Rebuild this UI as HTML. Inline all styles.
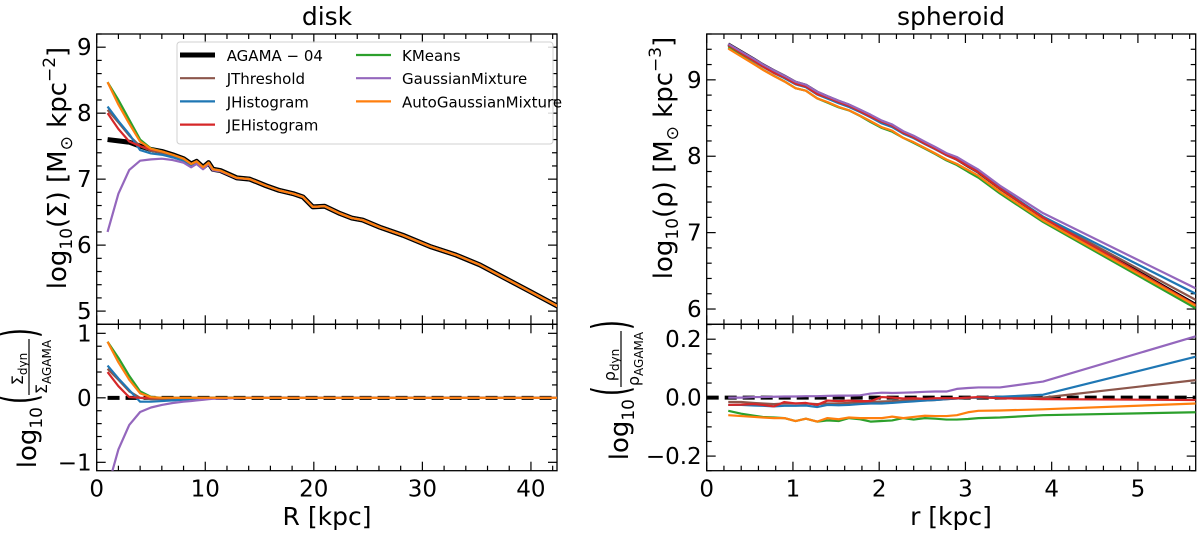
<!DOCTYPE html>
<html><head><meta charset="utf-8">
<style>
html,body{margin:0;padding:0;background:#fff;}
svg{display:block;font-family:"DejaVu Sans","Liberation Sans",sans-serif;}
</style></head>
<body>
<svg id="fig" width="1200" height="533" viewBox="0 0 1200 533" xmlns="http://www.w3.org/2000/svg">
<defs>
<clipPath id="cLT"><rect x="96.7" y="34" width="460.3" height="290.3"/></clipPath>
<clipPath id="cLB"><rect x="96.7" y="324.3" width="460.3" height="146.4"/></clipPath>
<clipPath id="cRT"><rect x="706.7" y="34" width="489" height="290.3"/></clipPath>
<clipPath id="cRB"><rect x="706.7" y="324.3" width="489" height="146.4"/></clipPath>
</defs>
<text x="327" y="25" font-size="25" text-anchor="middle">disk</text>
<text x="951" y="25" font-size="25" text-anchor="middle">spheroid</text>
<text x="327" y="525" font-size="25" text-anchor="middle">R [kpc]</text>
<text x="951" y="525" font-size="25" text-anchor="middle">r [kpc]</text>
<g transform="translate(66,168) rotate(-90)">
<text font-size="26" text-anchor="middle">log<tspan font-size="17" dy="6">10</tspan><tspan dy="-6">(Σ) [M</tspan><tspan font-size="17" dy="6">⊙</tspan><tspan dy="-6"> kpc</tspan><tspan font-size="17" dy="-11">−2</tspan><tspan dy="11">]</tspan></text>
</g>
<g transform="translate(36,395) rotate(-90)">
<text x="-12" y="0" font-size="26" text-anchor="end">log<tspan font-size="17" dy="6">10</tspan></text>
<text x="-4" y="0" font-size="26" text-anchor="middle" transform="translate(-4,-8) scale(1,1.9) translate(4,4)">(</text>
<text x="26" y="-13" font-size="16" text-anchor="middle">Σ<tspan font-size="12" dy="4">dyn</tspan></text>
<line x1="0" y1="-7" x2="56" y2="-7" stroke="#000" stroke-width="1.2"/>
<text x="28" y="11" font-size="16" text-anchor="middle">Σ<tspan font-size="12" dy="4">AGAMA</tspan></text>
<text x="62" y="0" font-size="26" text-anchor="middle" transform="translate(62,-8) scale(1,1.9) translate(-62,4)">)</text>
</g>
<g transform="translate(672,158) rotate(-90)">
<text font-size="26" text-anchor="middle">log<tspan font-size="17" dy="6">10</tspan><tspan dy="-6">(ρ) [M</tspan><tspan font-size="17" dy="6">⊙</tspan><tspan dy="-6"> kpc</tspan><tspan font-size="17" dy="-11">−3</tspan><tspan dy="11">]</tspan></text>
</g>
<g transform="translate(628,387) rotate(-90)">
<text x="-12" y="0" font-size="26" text-anchor="end">log<tspan font-size="17" dy="6">10</tspan></text>
<text x="-4" y="0" font-size="26" text-anchor="middle" transform="translate(-4,-8) scale(1,1.9) translate(4,4)">(</text>
<text x="22" y="-13" font-size="16" text-anchor="middle">ρ<tspan font-size="12" dy="4">dyn</tspan></text>
<line x1="0" y1="-7" x2="56" y2="-7" stroke="#000" stroke-width="1.2"/>
<text x="28" y="11" font-size="16" text-anchor="middle">ρ<tspan font-size="12" dy="4">AGAMA</tspan></text>
<text x="62" y="0" font-size="26" text-anchor="middle" transform="translate(62,-8) scale(1,1.9) translate(-62,4)">)</text>
</g>
<g id="plots"></g>
<g id="legend"></g>
</svg>
<script>
// ---------- data ----------
const seriesNames = ["JThreshold","JHistogram","JEHistogram","KMeans","GaussianMixture","AutoGaussianMixture"];
const seriesColors = ["#8c564b","#1f77b4","#d62728","#2ca02c","#9467bd","#ff7f0e"];
// disk
const diskR = [1,2,3,4,5,6,7,8,8.7,9.2,9.8,10.3,10.7,11.4,12.9,14.1,15.6,16.8,18.1,19,19.9,21,22.4,23.5,24.5,26.1,28.2,30.7,33.1,35.3,40,45];
const diskAgama = [7.6,7.58,7.56,7.5,7.45,7.42,7.37,7.31,7.23,7.27,7.18,7.25,7.15,7.13,7.02,7.0,6.9,6.83,6.78,6.73,6.58,6.59,6.48,6.41,6.38,6.27,6.15,5.98,5.85,5.7,5.29,4.85];
const diskJThreshold = [0.45,0.28,0.1,0,-0.02,-0.02,-0.01,0,0,0,0,0,0,0,0,0,0,0,0,0,0,0,0,0,0,0,0,0,0,0,0,0];
const diskJHistogram = [0.5,0.3,0.12,-0.06,-0.06,-0.05,-0.04,-0.03,-0.02,-0.015,-0.01,0,0,0,0,0,0,0,0,0,0,0,0,0,0,0,0,0,0,0,0,0];
const diskJEHistogram = [0.4,0.18,0.01,0,0,0,0,0,0,0,0,0,0,0,0,0,0,0,0,0,0,0,0,0,0,0,0,0,0,0,0,0];
const diskKMeans = [0.87,0.62,0.34,0.1,0.015,0,0,0,0,0,0,0,0,0,0,0,0,0,0,0,0,0,0,0,0,0,0,0,0,0,0,0];
const diskGaussianMixture = [-1.4,-0.8,-0.42,-0.22,-0.15,-0.11,-0.08,-0.06,-0.05,-0.04,-0.03,-0.02,-0.015,-0.01,-0.005,0,0,0,0,0,0,0,0,0,0,0,0,0,0,0,0,0];
const diskAutoGaussianMixture = [0.87,0.55,0.28,0.07,0.01,0,0,0,0,0,0,0,0,0,0,0,0,0,0,0,0,0,0,0,0,0,0,0,0,0,0,0];
// spheroid
const sphR = [0.25,0.4,0.55,0.65,0.78,0.9,1.03,1.15,1.28,1.4,1.53,1.65,1.78,1.9,2.03,2.15,2.28,2.4,2.53,2.65,2.78,2.9,3.03,3.15,3.4,3.9,5.67];
const sphAgama = [9.47,9.37,9.27,9.2,9.12,9.05,8.97,8.93,8.84,8.78,8.72,8.67,8.6,8.53,8.45,8.4,8.31,8.25,8.17,8.1,8.02,7.96,7.87,7.79,7.58,7.2,6.06];
const sphJThreshold = [-0.015,-0.015,-0.018,-0.02,-0.022,-0.02,-0.02,-0.02,-0.022,-0.02,-0.02,-0.018,-0.016,-0.015,-0.013,-0.012,-0.01,-0.01,-0.01,-0.008,-0.005,-0.003,0,0,0,0,0.06];
const sphJHistogram = [-0.025,-0.025,-0.027,-0.028,-0.03,-0.028,-0.028,-0.027,-0.032,-0.025,-0.026,-0.025,-0.022,-0.02,-0.02,-0.018,-0.015,-0.013,-0.01,-0.008,-0.005,-0.003,0,0,0.003,0.01,0.14];
const sphJEHistogram = [-0.025,-0.024,-0.022,-0.025,-0.03,-0.015,-0.02,-0.018,-0.025,-0.01,-0.012,-0.01,-0.012,-0.012,0.002,0,-0.003,-0.002,-0.004,-0.002,-0.002,-0.002,0,0.002,-0.002,-0.005,-0.008];
const sphKMeans = [-0.045,-0.055,-0.062,-0.066,-0.068,-0.07,-0.08,-0.072,-0.082,-0.078,-0.08,-0.07,-0.074,-0.082,-0.08,-0.078,-0.07,-0.075,-0.07,-0.072,-0.075,-0.075,-0.073,-0.07,-0.068,-0.06,-0.05];
const sphGaussianMixture = [0,0,0.002,0.002,0.003,0.004,0.004,0.005,0.005,0.006,0.007,0.007,0.008,0.014,0.017,0.016,0.017,0.018,0.02,0.021,0.021,0.03,0.033,0.035,0.035,0.055,0.21];
const sphAutoGaussianMixture = [-0.06,-0.063,-0.066,-0.068,-0.07,-0.07,-0.08,-0.072,-0.082,-0.07,-0.074,-0.068,-0.07,-0.07,-0.07,-0.065,-0.07,-0.066,-0.062,-0.063,-0.063,-0.06,-0.05,-0.045,-0.044,-0.04,-0.02];
const diskRatios = [diskJThreshold,diskJHistogram,diskJEHistogram,diskKMeans,diskGaussianMixture,diskAutoGaussianMixture];
const sphRatios = [sphJThreshold,sphJHistogram,sphJEHistogram,sphKMeans,sphGaussianMixture,sphAutoGaussianMixture];
const leftXTicks = [0,10,20,30,40];
const leftTopYTicks = [5,6,7,8,9];
const leftBotYTicks = [-1,0,1];
const rightXTicks = [0,1,2,3,4,5];
const rightTopYTicks = [6,7,8,9];
const rightBotYTicks = [-0.2,0,0.2];

// ---------- drawing ----------
const NS = "http://www.w3.org/2000/svg";
const plots = document.getElementById("plots");
function mk(tag, attrs, parent){
  const e = document.createElementNS(NS, tag);
  for (const k in attrs) e.setAttribute(k, attrs[k]);
  (parent||plots).appendChild(e);
  return e;
}
function fmt(v, dec){ const s = v.toFixed(dec); return s.replace("-", "−"); }
function axes(name, b, xr, yr, xMaj, xMin, yMaj, yMin, xLabels, yDec){
  const sx = v => b.x0 + (v - xr[0]) / (xr[1] - xr[0]) * (b.x1 - b.x0);
  const sy = v => b.y1 - (v - yr[0]) / (yr[1] - yr[0]) * (b.y1 - b.y0);
  const g = mk("g", {});
  
  
  const tickG = mk("g", {stroke:"#000","stroke-width":1.2}, g);
  for (let v = Math.ceil(xr[0]/xMin - 1e-6)*xMin; v <= xr[1]+1e-9; v += xMin) {
    const X = sx(v), isMaj = Math.abs(v/xMaj - Math.round(v/xMaj)) < 1e-6, L = isMaj ? 9 : 5;
    mk("line", {x1:X, x2:X, y1:b.y1, y2:b.y1-L}, tickG);
    mk("line", {x1:X, x2:X, y1:b.y0, y2:b.y0+L}, tickG);
  }
  for (let v = Math.ceil(yr[0]/yMin - 1e-6)*yMin; v <= yr[1]+1e-9; v += yMin) {
    const Y = sy(v), isMaj = Math.abs(v/yMaj - Math.round(v/yMaj)) < 1e-6, L = isMaj ? 9 : 5;
    mk("line", {x1:b.x0, x2:b.x0+L, y1:Y, y2:Y}, tickG);
    mk("line", {x1:b.x1, x2:b.x1-L, y1:Y, y2:Y}, tickG);
  }
  if (xLabels) xLabels.forEach(v => {
    const t = mk("text", {x:sx(v), y:b.y1+26, "font-size":23, "text-anchor":"middle"}, g);
    
    
    t.textContent = fmt(v, 0);
  });
  return {sx, sy, g, ticks: (vals) => vals.forEach(v => {
    const t = mk("text", {x:b.x0-5, y:sy(v)+8, "font-size":23, "text-anchor":"end"}, g);
    
    
    t.textContent = fmt(v, yDec);
  }), frame: () => {
    const r = mk("rect", {x:b.x0, y:b.y0, width:b.x1-b.x0, height:b.y1-b.y0, fill:"none", stroke:"#000", "stroke-width":1.3}, g);
    
    
  }};
}
function line(ax, clip, xs, ys, color, w, name, dash){
  const d = xs.map((x,i) => (i ? "L" : "M") + ax.sx(x).toFixed(2) + "," + ax.sy(ys[i]).toFixed(2)).join(" ");
  const p = mk("path", {d, fill:"none", stroke:color, "stroke-width":w, "stroke-linejoin":"round", "clip-path":"url(#"+clip+")"});
  if (dash) p.setAttribute("stroke-dasharray", dash);
  
  
}
const order = [0,1,2,3,4,5];
// left top
const bLT = {x0:96.7, x1:557, y0:34, y1:324.3};
const aLT = axes("disk-top", bLT, [0,42.4], [4.8,9.2], 10, 2, 1, 0.2, null, 0);
aLT.ticks(leftTopYTicks);
line(aLT, "cLT", diskR, diskAgama, "#000", 5, "disk-agama-line");
order.forEach(i => line(aLT, "cLT", diskR, diskAgama.map((a,j) => a + diskRatios[i][j]), seriesColors[i], 2.2, "disk-" + seriesNames[i].toLowerCase() + "-line"));
aLT.frame();
// left bottom
const bLB = {x0:96.7, x1:557, y0:324.3, y1:470.7};
const aLB = axes("disk-bottom", bLB, [0,42.4], [-1.13,1.14], 10, 2, 1, 0.2, leftXTicks, 0);
aLB.ticks(leftBotYTicks);
line(aLB, "cLB", diskR, diskR.map(() => 0), "#000", 4, "disk-agama-ratio-line", "12,6");
order.forEach(i => line(aLB, "cLB", diskR, diskRatios[i], seriesColors[i], 2.2, "disk-" + seriesNames[i].toLowerCase() + "-ratio-line"));
aLB.frame();
// right top
const bRT = {x0:706.7, x1:1195.7, y0:34, y1:324.3};
const aRT = axes("spheroid-top", bRT, [0,5.67], [5.8,9.6], 1, 0.2, 1, 0.2, null, 0);
aRT.ticks(rightTopYTicks);
line(aRT, "cRT", sphR, sphAgama, "#000", 3, "spheroid-agama-line");
order.forEach(i => line(aRT, "cRT", sphR, sphAgama.map((a,j) => a + sphRatios[i][j]), seriesColors[i], 2.2, "spheroid-" + seriesNames[i].toLowerCase() + "-line"));
aRT.frame();
// right bottom
const bRB = {x0:706.7, x1:1195.7, y0:324.3, y1:470.7};
const aRB = axes("spheroid-bottom", bRB, [0,5.67], [-0.25,0.251], 1, 0.2, 0.2, 0.05, rightXTicks, 1);
aRB.ticks(rightBotYTicks);
line(aRB, "cRB", [0, 5.67], [0, 0], "#000", 4, "spheroid-agama-ratio-line", "12,6");
order.forEach(i => line(aRB, "cRB", sphR, sphRatios[i], seriesColors[i], 2.2, "spheroid-" + seriesNames[i].toLowerCase() + "-ratio-line"));
aRB.frame();

// legend
const lg = document.getElementById("legend");
const box = mk("rect", {x:177, y:42, width:376, height:102, rx:3, fill:"#fff", "fill-opacity":0.85, stroke:"#d0d0d0", "stroke-width":1}, lg);


const legNames = ["AGAMA − 04"].concat(seriesNames);
const legColors = ["#000"].concat(seriesColors);
legNames.forEach((n, i) => {
  const col = i < 4 ? 0 : 1, row = i < 4 ? i : i - 4;
  const lx = col ? 356 : 180, tx = col ? 402 : 226.7, y = 55 + row * 23.2;
  const g = mk("g", {}, lg);
  
  
  mk("line", {x1:lx, x2:lx+35, y1:y, y2:y, stroke:legColors[i], "stroke-width": i === 0 ? 5 : 2.2}, g);
  const t = mk("text", {x:tx, y:y+6, "font-size":15}, g);
  t.textContent = n;
});
</script>
</body></html>
